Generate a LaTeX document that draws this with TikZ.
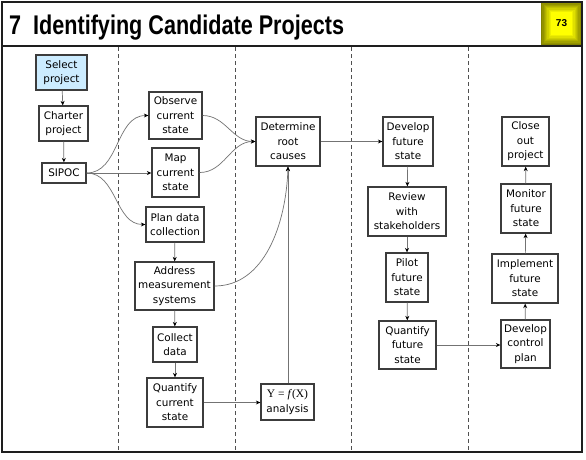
\documentclass[tikz,border=0pt]{standalone}
\usepackage{fontspec}
\setmainfont{DejaVu Sans}
\newfontfamily\titlefont{Liberation Sans}
\newfontfamily\seriffont{Liberation Serif}
\usetikzlibrary{arrows.meta}
\definecolor{selblue}{RGB}{204,236,255}
\definecolor{framec}{RGB}{30,30,30}
\definecolor{boxc}{RGB}{60,60,60}
\definecolor{linec}{RGB}{115,115,115}
\definecolor{dashc}{RGB}{80,80,80}
\definecolor{olivec}{RGB}{130,130,0}
\definecolor{yellowc}{RGB}{255,255,0}
\begin{document}
\begin{tikzpicture}[x=1pt,y=-1pt,
  box/.style={draw=boxc, line width=1.3pt, fill=white, align=center, inner sep=1pt,
    font=\fontsize{10.4}{14.5}\selectfont},
  arr/.style={draw=linec, line width=0.7pt, -{Stealth[length=4.5pt,width=4pt,color=black]}},
  sep/.style={draw=dashc, line width=0.8pt, dash pattern=on 4pt off 3pt}]
\useasboundingbox (0,0) rectangle (586,459);
\fill[white] (0,0) rectangle (586,459);
% badge
\foreach \i in {0,...,8}{
  \pgfmathsetmacro\p{\i*12.5}
  \fill[yellowc!\p!olivec] (541+\i*1.25, 2+\i*1.25) rectangle (582-\i*1.25, 45-\i*1.25);
}
\node[font=\titlefont\bfseries\fontsize{10}{12}\selectfont] (badge) at (561.5,23.5) {73};
% title
\node[anchor=base west, inner sep=0pt, font=\titlefont\bfseries\fontsize{27}{30}\selectfont] (title) at (9,34) {\scalebox{0.8}[1]{7\ \ Identifying Candidate Projects}};
% separators
\coordinate (s1t) at (118,47); \coordinate (s1b) at (118,451);
\coordinate (s2t) at (235,47); \coordinate (s2b) at (235,451);
\coordinate (s3t) at (351,47); \coordinate (s3b) at (351,451);
\coordinate (s4t) at (468,47); \coordinate (s4b) at (468,451);
\draw[sep] (s1t) -- (s1b);
\draw[sep] (s2t) -- (s2b);
\draw[sep] (s3t) -- (s3b);
\draw[sep] (s4t) -- (s4b);
% frame
\draw[framec, line width=2.5pt] (2,46) -- (582,46);
\draw[framec, line width=2pt] (2,1.5) rectangle (582,452);
% nodes
\node[box, fill=selblue, minimum width=51, minimum height=35] (sel) at (61.5,72.5) {Select\\project};
\node[box, minimum width=49, minimum height=35] (cha) at (63.5,123.5) {Charter\\project};
\node[box, minimum width=44, minimum height=20] (sip) at (64,173) {SIPOC};
\node[box, minimum width=53, minimum height=47] (obs) at (175.5,115.5) {Observe\\current\\state};
\node[box, minimum width=47, minimum height=49] (map) at (175.5,172.5) {Map\\current\\state};
\node[box, minimum width=58, minimum height=35] (pla) at (175,224.5) {Plan data\\collection};
\node[box, minimum width=79, minimum height=48] (adr) at (174.5,286) {Address\\measurement\\systems};
\node[box, minimum width=44, minimum height=35] (col) at (175,344.5) {Collect\\data};
\node[box, minimum width=56, minimum height=49] (qcs) at (175,402.5) {Quantify\\current\\state};
\node[box, minimum width=53, minimum height=36] (yfx) at (287.5,402) {{\seriffont\fontsize{11.5}{12}\selectfont Y = \textit{f}(X)}\\analysis};
\node[box, minimum width=64, minimum height=49] (det) at (288,141.5) {Determine\\root\\causes};
\node[box, minimum width=50, minimum height=49] (dev) at (408,141.5) {Develop\\future\\state};
\node[box, minimum width=78, minimum height=49] (rev) at (407,211.5) {Review\\with\\stakeholders};
\node[box, minimum width=42, minimum height=49] (pil) at (407,277.5) {Pilot\\future\\state};
\node[box, minimum width=57, minimum height=48] (qfs) at (407.5,345) {Quantify\\future\\state};
\node[box, minimum width=49, minimum height=48] (dcp) at (525.5,344) {Develop\\control\\plan};
\node[box, minimum width=66, minimum height=49] (imp) at (525,278.5) {Implement\\future\\state};
\node[box, minimum width=50, minimum height=49] (mon) at (526,208.5) {Monitor\\future\\state};
\node[box, minimum width=47, minimum height=49] (clo) at (525.5,141.5) {Close\\out\\project};
% connectors
\draw[arr] (sel) -- (cha);
\draw[arr] (cha) -- (sip);
\draw[arr] (sip.east) to[out=0,in=180] (obs.west);
\draw[arr] (sip.east) -- (sip.east -| map.west);
\draw[arr] (sip.east) to[out=0,in=180] (pla.west);
\draw[arr] (obs.east) to[out=0,in=180] (det.west);
\draw[arr] (map.east) to[out=0,in=180] (det.west);
\draw[arr] (pla) -- (adr);
\draw[arr] (adr) -- (col);
\draw[arr] (col) -- (qcs);
\draw[arr] (adr.east) .. controls (264,286) and (286,225) .. (det.south);
\draw[arr] (qcs.east) -- (qcs.east -| yfx.west);
\draw[arr] (yfx.north -| det.south) -- (det.south);
\draw[arr] (det.east) -- (det.east -| dev.west);
\draw[arr] (dev) -- (rev);
\draw[arr] (rev) -- (pil);
\draw[arr] (pil) -- (qfs);
\draw[arr] (qfs.east) -- (qfs.east -| dcp.west);
\draw[arr] (dcp) -- (imp);
\draw[arr] (imp) -- (mon);
\draw[arr] (mon) -- (clo);
\end{tikzpicture}
\end{document}
